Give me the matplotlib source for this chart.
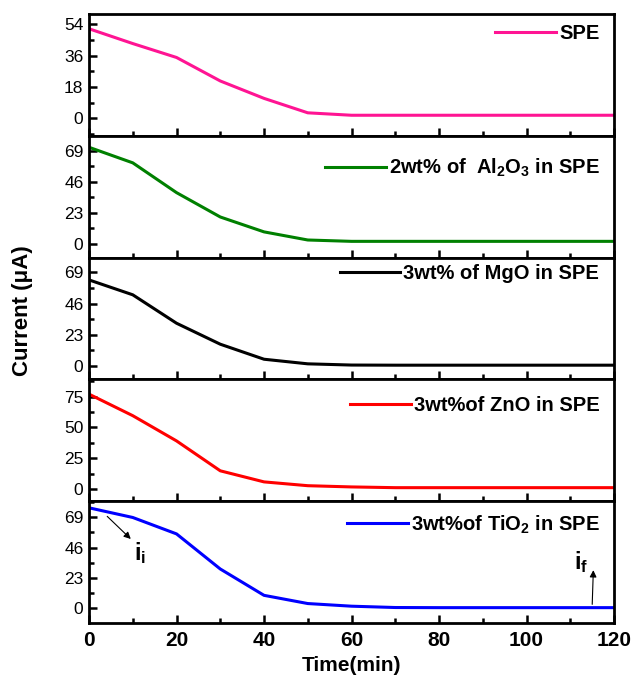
import matplotlib
matplotlib.use("Agg")
import matplotlib.pyplot as plt
from matplotlib.ticker import MultipleLocator

plt.rcParams['font.family'] = ['Liberation Sans', 'DejaVu Sans']
plt.rcParams['mathtext.fontset'] = 'custom'
plt.rcParams['mathtext.rm'] = 'Liberation Sans:bold'
plt.rcParams['mathtext.bf'] = 'Liberation Sans:bold'
plt.rcParams['mathtext.it'] = 'Liberation Sans:bold'

# time axis (min)
time = [0, 10, 20, 30, 40, 50, 60, 70, 80, 90, 100, 110, 120]

# current (uA) for each electrolyte
spe = [51.5, 43, 35, 21.5, 11.5, 3.2, 1.8, 1.8, 1.8, 1.8, 1.8, 1.8, 1.8]
al2o3 = [71.5, 60, 38, 20, 9, 3, 2, 2, 2, 2, 2, 2, 2]
mgo = [63.5, 52.5, 31.5, 16, 4.9, 1.5, 0.6, 0.5, 0.5, 0.5, 0.5, 0.5, 0.5]
zno = [77, 59.5, 39, 14.7, 5.7, 2.6, 1.6, 1.0, 1.0, 1.0, 1.0, 1.0, 1.0]
tio2 = [76, 68.7, 56.3, 29.8, 9.9, 3.7, 1.7, 0.7, 0.6, 0.6, 0.6, 0.6, 0.6]

series = [spe, al2o3, mgo, zno, tio2]
labels = ["SPE",
          "2wt% of  Al$_2$O$_3$ in SPE",
          "3wt% of MgO in SPE",
          "3wt%of ZnO in SPE",
          "3wt%of TiO$_2$ in SPE"]
colors = ["#ff1493", "#008000", "#000000", "#ff0000", "#0000ff"]
yticks = [[0, 18, 36, 54], [0, 23, 46, 69], [0, 23, 46, 69],
          [0, 25, 50, 75], [0, 23, 46, 69]]
ylims = [(-10, 60), (-10, 80), (-10, 80), (-10, 89), (-11, 81)]
# vertical position of each legend (axes fraction, top of box)
leg_y = [1.02, 0.925, 1.045, 0.965, 1.0]

fig, axes = plt.subplots(5, 1, sharex=True, figsize=(6.36, 6.82), dpi=100)
fig.subplots_adjust(left=0.14, right=0.9654, bottom=0.0865, top=0.9795, hspace=0)

for ax, y, lab, c, yt, yl, ly in zip(axes, series, labels, colors, yticks, ylims, leg_y):
    ax.plot(time, y, color=c, lw=2.2, label=lab)
    ax.set_xlim(0, 120)
    ax.set_ylim(*yl)
    ax.set_yticks(yt)
    step = yt[1] - yt[0]
    ax.yaxis.set_minor_locator(MultipleLocator(step / 2))
    ax.xaxis.set_major_locator(MultipleLocator(20))
    ax.xaxis.set_minor_locator(MultipleLocator(10))
    ax.tick_params(axis='both', which='both', direction='in', width=1.8,
                   top=False, right=False)
    ax.tick_params(which='major', length=6)
    ax.tick_params(which='minor', length=3.5)
    ax.tick_params(axis='y', labelsize=12.5, pad=4)
    for sp in ax.spines.values():
        sp.set_linewidth(2)
    ax.legend(loc='upper right', bbox_to_anchor=(0.995, ly), frameon=False,
              handlelength=3.0, handletextpad=0.15, borderaxespad=0.2,
              prop={'weight': 'bold', 'size': 14.5})

last = axes[-1]
last.tick_params(axis='x', labelsize=15, pad=6)
for t in last.get_xticklabels():
    t.set_fontweight('bold')
last.set_xlabel("Time(min)", fontsize=15, fontweight='bold', labelpad=4)

fig.text(0.035, 0.545, "Current (\u03bcA)", rotation=90, ha='center', va='center',
         fontsize=16, fontweight='bold')

# initial and final current markers
last.annotate("", xy=(10, 51), xytext=(3.7, 71),
              arrowprops=dict(arrowstyle='-|>', color='black', lw=0.8, mutation_scale=10))
last.text(10.3, 42, "i$_\\mathrm{i}$", fontsize=17, fontweight='bold', va='center')
last.annotate("", xy=(115.3, 31), xytext=(115, 1),
              arrowprops=dict(arrowstyle='-|>', color='black', lw=0.8, mutation_scale=10))
last.text(110.8, 35, "i$_\\mathrm{f}$", fontsize=17, fontweight='bold', va='center')

fig.savefig("out.png", dpi=100)
